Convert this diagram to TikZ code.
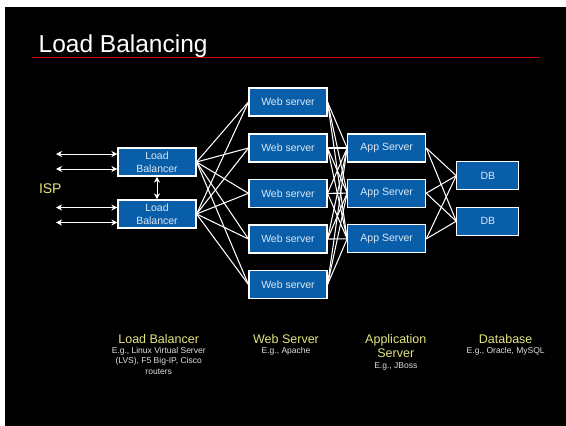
\documentclass[tikz,border=0pt]{standalone}
\usepackage{fontspec}
\setmainfont{Liberation Sans}
\usetikzlibrary{arrows.meta}

\definecolor{boxblue}{RGB}{8,94,168}
\definecolor{boxtext}{RGB}{222,232,244}
\definecolor{labelyellow}{RGB}{228,228,128}
\definecolor{rulered}{RGB}{210,0,0}

\tikzset{
  srv/.style={draw=white, line width=1.1pt, fill=boxblue, text=boxtext,
    minimum width=78pt, minimum height=28pt, inner sep=0pt, align=center,
    font=\fontsize{10.5}{13}\selectfont},
  dbbox/.style={srv, minimum width=62pt},
  link/.style={draw=white, line width=1.05pt},
  dbl/.style={draw=white, line width=1pt,
    {Stealth[length=6pt,width=6pt,inset=1.8pt]}-{Stealth[length=6pt,width=6pt,inset=1.8pt]}},
  tier/.style={text=labelyellow, anchor=base, inner sep=0pt,
    font=\fontsize{12.5}{14.5}\selectfont},
  note/.style={text=white!88!black, anchor=base, inner sep=0pt,
    font=\fontsize{8.5}{10.5}\selectfont}
}

\begin{document}
\begin{tikzpicture}[x=1pt, y=-1pt]
  \useasboundingbox (0,0) rectangle (566,426);
  \fill[white] (0,0) rectangle (566,426);
  \fill[black] (5,7) rectangle (566,426);

  % title and rule
  \node[anchor=base west, inner sep=0pt, text=white, font=\fontsize{24.5}{28}\selectfont]
    (title) at (38.5,52) {Load Balancing};
  \draw[rulered, line width=1.2pt] (32,57.5) -- (540,57.5);

  % load balancers
  \node[srv] (lb1) at (157,162) {Load\\Balancer};
  \node[srv] (lb2) at (157,214) {Load\\Balancer};

  % web servers
  \node[srv] (w1) at (288,102)   {Web server};
  \node[srv] (w2) at (288,148)   {Web server};
  \node[srv] (w3) at (288,193.3) {Web server};
  \node[srv] (w4) at (288,239)   {Web server};
  \node[srv] (w5) at (288,284.5) {Web server};

  % application servers
  \node[srv] (a1) at (386.7,148)   {App Server};
  \node[srv] (a2) at (386.7,193.2) {App Server};
  \node[srv] (a3) at (386.7,238.9) {App Server};

  % databases
  \node[dbbox] (d1) at (487.8,175.7) {DB};
  \node[dbbox] (d2) at (487.8,221.2) {DB};

  % ISP side
  \node[text=labelyellow, font=\fontsize{14}{16}\selectfont, inner sep=0pt]
    (isp) at (50.3,188.5) {ISP};
  \coordinate (i1) at (56,154);
  \coordinate (i2) at (56,169);
  \coordinate (i3) at (56,207.5);
  \coordinate (i4) at (56,222.5);
  \draw[dbl] (i1) -- (i1 -| lb1.west);
  \draw[dbl] (i2) -- (i2 -| lb1.west);
  \draw[dbl] (i3) -- (i3 -| lb2.west);
  \draw[dbl] (i4) -- (i4 -| lb2.west);
  \draw[dbl] (lb1.south) -- (lb2.north);

  % balancers to web tier
  \foreach \l in {lb1,lb2}
    \foreach \w in {w1,w2,w3,w4,w5}
      \draw[link] (\l.east) -- (\w.west);

  % web tier to application tier
  \foreach \w in {w1,w2,w3,w4,w5}
    \foreach \a in {a1,a2,a3}
      \draw[link] (\w.east) -- (\a.west);

  % application tier to databases
  \foreach \a in {a1,a2,a3}
    \foreach \d in {d1,d2}
      \draw[link] (\a.east) -- (\d.west);

  % tier captions
  \node[tier] (t1) at (158.7,343.3) {Load Balancer};
  \node[note] (t1a) at (158.7,353.5) {E.g., Linux Virtual Server};
  \node[note] (t1b) at (158.7,363.8) {(LVS), F5 Big-IP, Cisco};
  \node[note] (t1c) at (158.7,374.2) {routers};

  \node[tier] (t2) at (286,343.3) {Web Server};
  \node[note] (t2a) at (286,353.5) {E.g., Apache};

  \node[tier] (t3) at (395.8,343.3) {Application};
  \node[tier] (t3b) at (395.8,357.8) {Server};
  \node[note] (t3a) at (395.8,368.3) {E.g., JBoss};

  \node[tier] (t4) at (505.7,343.3) {Database};
  \node[note] (t4a) at (505.7,353.5) {E.g., Oracle, MySQL};
\end{tikzpicture}
\end{document}
